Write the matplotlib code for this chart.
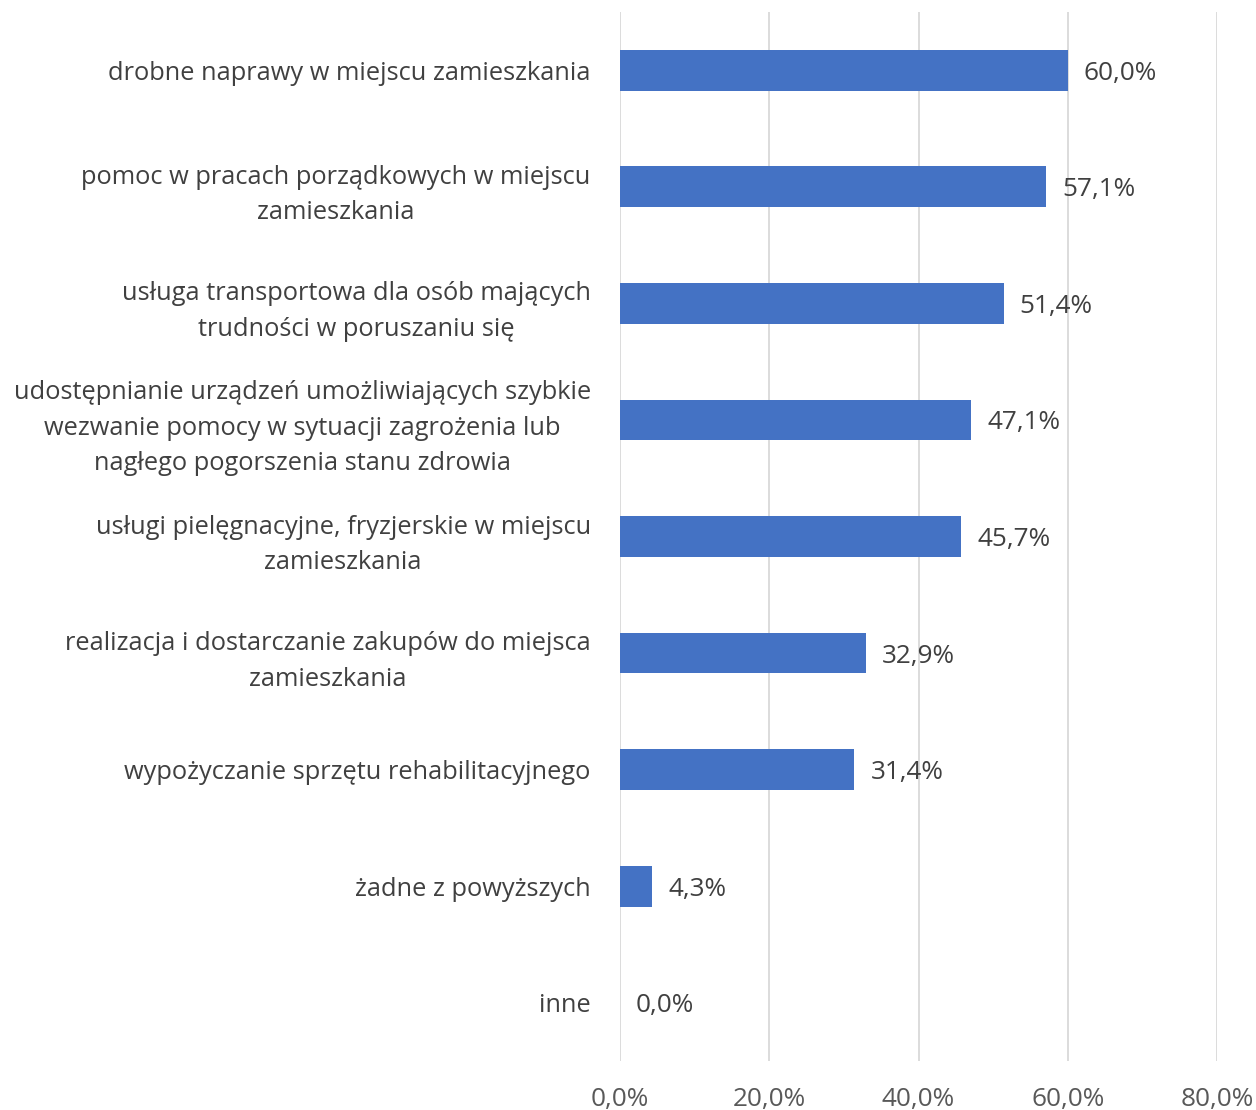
import matplotlib
matplotlib.use("Agg")
import matplotlib.pyplot as plt

categories = [
    "drobne naprawy w miejscu zamieszkania",
    "pomoc w pracach porządkowych w miejscu\nzamieszkania",
    "usługa transportowa dla osób mających\ntrudności w poruszaniu się",
    "udostępnianie urządzeń umożliwiających szybkie\nwezwanie pomocy w sytuacji zagrożenia lub\nnagłego pogorszenia stanu zdrowia",
    "usługi pielęgnacyjne, fryzjerskie w miejscu\nzamieszkania",
    "realizacja i dostarczanie zakupów do miejsca\nzamieszkania",
    "wypożyczanie sprzętu rehabilitacyjnego",
    "żadne z powyższych",
    "inne",
]
values = [60.0, 57.1, 51.4, 47.1, 45.7, 32.9, 31.4, 4.3, 0.0]
xticks = [0, 20, 40, 60, 80]

plt.rcParams['font.family'] = ['Open Sans', 'DejaVu Sans']

W, H = 1256, 1110
fig = plt.figure(figsize=(W/100, H/100), dpi=100)
left = 620 / W
right = 1217 / W
top = 1 - 12 / H
bottom = 1 - 1061 / H
ax = fig.add_axes([left, bottom, right - left, top - bottom])

n = len(categories)
pos = list(range(n))
ax.barh(pos, values, height=0.35, color="#4472C4", zorder=3)
ax.set_ylim(n - 0.5, -0.5)
ax.set_xlim(0, 80)
ax.set_xticks(xticks)
ax.set_xticklabels([f"{v:.1f}%".replace(".", ",") for v in xticks], color="#595959", fontsize=18.8)
ax.set_yticks(pos)
ax.set_yticklabels(categories, color="#404040", fontsize=18.3, multialignment="center", linespacing=1.55)
ax.tick_params(axis="y", length=0, pad=21)
ax.tick_params(axis="x", length=0, pad=19)
ax.grid(axis="x", color="#D9D9D9", linewidth=1.3, zorder=0)
for s in ax.spines.values():
    s.set_visible(False)

for p, v in zip(pos, values):
    ax.annotate(f"{v:.1f}%".replace(".", ","), xy=(v, p), xytext=(16, 0),
                textcoords="offset pixels",
                va="center_baseline", ha="left", fontsize=18.8, color="#404040", zorder=4)

fig.savefig("out.png", dpi=100)
